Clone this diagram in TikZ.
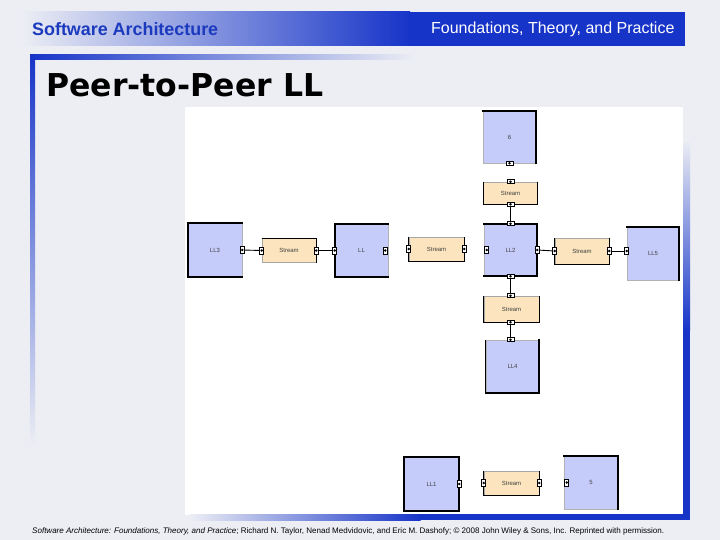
\documentclass[tikz,border=0pt]{standalone}
\usepackage{fontspec}
\setmainfont{Liberation Sans}
\newfontfamily\titlefont{DejaVu Sans}
\usetikzlibrary{positioning}
\definecolor{bgc}{RGB}{236,238,244}
\definecolor{barblue}{RGB}{22,52,200}
\definecolor{hdtext}{RGB}{28,58,190}
\definecolor{compc}{RGB}{198,204,250}
\definecolor{strmc}{RGB}{252,229,190}
\tikzset{
  comp/.style={rectangle, fill=compc, draw=gray!60, line width=0.5pt, inner sep=0pt,
    minimum width=53pt, minimum height=53pt, font=\fontsize{6}{7}\selectfont, text=black!75},
  strm/.style={rectangle, fill=strmc, draw=gray!70, line width=0.5pt, inner sep=0pt,
    minimum width=54pt, minimum height=24pt, font=\fontsize{6}{7}\selectfont, text=black!75},
  heavy/.style={line width=2pt, line cap=rect},
  hport/.style={rectangle, draw=black, fill=white, line width=0.8pt, inner sep=0pt,
    minimum width=4pt, minimum height=7pt,
    path picture={\fill[black] (path picture bounding box.center) circle (1.4pt);}},
  vport/.style={hport, minimum width=7pt, minimum height=4pt},
  wire/.style={line width=0.9pt, black},
}
\begin{document}
\begin{tikzpicture}[x=1pt, y=-1pt]
\useasboundingbox (0,0) rectangle (720,540);
% background
\fill[bgc] (0,0) rectangle (720,540);
% header bar
\shade[left color=bgc, right color=barblue] (22,12) rectangle (410,46);
\fill[barblue] (409.5,12) rectangle (685,46);
\node[anchor=west, inner sep=0pt, text=hdtext] (hdl) at (32,29.5) {\resizebox{186pt}{!}{\bfseries\fontsize{16}{18}\selectfont Software Architecture}};
\node[anchor=east, font=\fontsize{16}{18}\selectfont, text=white] (hdr) at (678,29.5) {Foundations, Theory, and Practice};
% title frame
\shade[left color=barblue, right color=bgc] (30,55) rectangle (415,60);
\shade[top color=barblue, bottom color=bgc] (30,55) rectangle (35,445);
\node[anchor=base west, font=\titlefont\bfseries\fontsize{31.5}{34}\selectfont, text=black] (title) at (43,97) {Peer-to-Peer LL};
% diagram area
\fill[white] (185,107) rectangle (683,515);
\shade[bottom color=barblue, top color=bgc] (683,140) rectangle (690,330.5);
\fill[barblue] (683,330) rectangle (690,520);
\shade[right color=barblue, left color=bgc] (190,514) rectangle (420.5,520);
\fill[barblue] (420,514) rectangle (690,520);

% components
\node[comp, minimum width=54pt, minimum height=54pt] (LL3) at (215,250) {LL3};
\node[comp] (LLm) at (361.5,250.5) {LL};
\node[comp, minimum height=52pt] (C6) at (509.5,137) {6};
\node[comp, minimum height=52pt] (LL2) at (510.5,250) {LL2};
\node[comp, minimum width=52pt] (LL5) at (653,253.5) {LL5};
\node[comp] (LL4) at (512.5,366.5) {LL4};
\node[comp, minimum width=55pt, minimum height=54pt] (LL1) at (431.5,484) {LL1};
\node[comp, minimum width=54pt] (C5) at (591,482.5) {5};
% heavy sides
\draw[heavy] (LL3.north east) -- (LL3.north west) -- (LL3.south west) -- (LL3.south east);
\draw[heavy] (LLm.north east) -- (LLm.north west) -- (LLm.south west) -- (LLm.south east);
\draw[heavy] (C6.north west) -- (C6.north east) -- (C6.south east);
\draw[heavy] (LL2.north west) -- (LL2.north east) -- (LL2.south east) -- (LL2.south west);
\draw[heavy] (LL5.north west) -- (LL5.north east) -- (LL5.south east);
\draw[heavy] (LL4.north east) -- (LL4.south east) -- (LL4.south west);
\draw[line width=1pt] (LL4.south west) -- (LL4.north west);
\draw[heavy] (LL1.north west) rectangle (LL1.south east);
\draw[heavy] (C5.north west) -- (C5.north east) -- (C5.south east);

% streams
\node[strm] (SA) at (289,250.5) {Stream};
\node[strm, minimum width=55pt] (SB) at (436.5,249) {Stream};
\node[strm, minimum height=22pt] (SC) at (510.5,193) {Stream};
\node[strm, minimum height=26pt] (SD) at (582,251) {Stream};
\node[strm, minimum width=55pt, minimum height=26pt] (SE) at (511.5,309) {Stream};
\node[strm, minimum width=55pt] (SF) at (511.5,483) {Stream};
\draw[line width=1pt] (SA.north west) -- (SA.north east) -- (SA.south east);
\draw[line width=1pt] (SB.north west) -- (SB.south west) -- (SB.south east) -- (SB.north east);
\draw[line width=1pt] (SC.north west) -- (SC.south west) -- (SC.south east) -- (SC.north east);
\draw[line width=1pt] (SD.north west) -- (SD.south west) -- (SD.south east) -- (SD.north east);
\draw[line width=1pt] (SE.north west) -- (SE.south west) -- (SE.south east) -- (SE.north east);
\draw[line width=1pt] (SF.north west) -- (SF.south west) -- (SF.south east) -- (SF.north east);

% ports
\node[hport] (p1) at (LL3.east) {};
\node[hport] (p2) at (SA.west) {};
\node[hport] (p3) at (SA.east) {};
\node[hport] (p4) at (LLm.west) {};
\node[hport] (p5) at ([xshift=-3pt]LLm.east) {};
\node[hport] (p6) at (SB.west) {};
\node[hport] (p7) at (SB.east) {};
\node[hport] (p8) at ([xshift=3pt]LL2.west) {};
\node[hport] (p9) at (LL2.east) {};
\node[hport] (p10) at (SD.west) {};
\node[hport] (p11) at (SD.east) {};
\node[hport] (p12) at ([yshift=2.5pt]LL5.west) {};
\node[vport] (p13) at (C6.south) {};
\node[vport] (p14) at (SC.north) {};
\node[vport] (p15) at (SC.south) {};
\node[vport] (p16) at (LL2.north) {};
\node[vport] (p17) at (LL2.south) {};
\node[vport] (p18) at ([xshift=-1pt]SE.north) {};
\node[vport] (p19) at ([xshift=-1pt]SE.south) {};
\node[vport] (p20) at ([xshift=-2pt]LL4.north) {};
\node[hport] (p21) at (LL1.east) {};
\node[hport] (p22) at (SF.west) {};
\node[hport] (p23) at (SF.east) {};
\node[hport] (p24) at ([xshift=3pt]C5.west) {};

% connectors
\draw[wire] (p1) -- (p2);
\draw[wire] (p3) -- (p4);
\draw[wire] (p9) -- (p10);
\draw[wire] (p11) -- (p12);
\draw[wire] (p15) -- (p16);
\draw[wire] (p17) -- (p18);
\draw[wire] (p19) -- (p20);

% footer
\node[anchor=west, inner sep=0pt] (foot) at (32,531) {\resizebox{632pt}{!}{\fontsize{7}{8}\selectfont\textit{Software Architecture: Foundations, Theory, and Practice}; Richard N. Taylor, Nenad Medvidovic, and Eric M. Dashofy; \textcopyright{} 2008 John Wiley \& Sons, Inc. Reprinted with permission.}};
\end{tikzpicture}
\end{document}
